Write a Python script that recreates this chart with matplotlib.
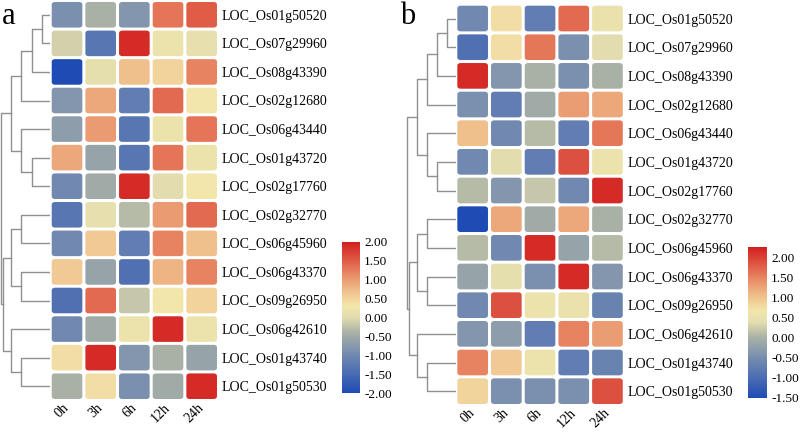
import numpy as np
import matplotlib
matplotlib.use('Agg')
import matplotlib.pyplot as plt
from matplotlib.colors import LinearSegmentedColormap, Normalize
from matplotlib.patches import FancyBboxPatch
from matplotlib.cm import ScalarMappable

plt.rcParams['font.family'] = ['Liberation Serif', 'DejaVu Serif']

times = ['0h', '3h', '6h', '12h', '24h']
genes = ['LOC_Os01g50520', 'LOC_Os07g29960', 'LOC_Os08g43390', 'LOC_Os02g12680',
         'LOC_Os06g43440', 'LOC_Os01g43720', 'LOC_Os02g17760', 'LOC_Os02g32770',
         'LOC_Os06g45960', 'LOC_Os06g43370', 'LOC_Os09g26950', 'LOC_Os06g42610',
         'LOC_Os01g43740', 'LOC_Os01g50530']

# panel a values (z-score, -2..2)
vals_a = np.array([
    [-0.9, -0.4, -0.8, 1.3, 1.5],
    [-0.1, -1.3, 1.9, 0.2, 0.1],
    [-2.0, 0.05, 0.7, 0.5, 1.2],
    [-0.8, 0.9, -1.2, 1.4, 0.3],
    [-0.7, 1.0, -1.3, 0.2, 1.3],
    [0.9, -0.6, -1.3, 1.3, 0.2],
    [-1.0, -0.5, 1.9, 0.0, 0.3],
    [-1.3, 0.1, -0.3, 1.0, 1.4],
    [-1.0, 0.6, -1.2, 1.2, 0.7],
    [0.6, -0.6, -1.4, 0.8, 1.2],
    [-1.4, 1.4, -0.2, 0.3, 0.5],
    [-1.0, -0.5, 0.2, 1.9, 0.2],
    [0.4, 1.9, -0.8, -0.4, -0.6],
    [-0.4, 0.4, -0.9, -0.5, 1.9],
])

# panel b values (z-score, -1.5..2.25)
vals_b = np.array([
    [-0.56, 0.75, -0.75, 1.69, 0.52],
    [-0.94, 0.75, 1.59, -0.47, 0.38],
    [2.16, -0.38, 0.0, -0.47, 0.0],
    [-0.47, -0.75, -0.09, 1.31, 1.22],
    [1.03, -0.56, 0.09, -0.75, 1.59],
    [-0.56, 0.38, -0.75, 1.88, 0.56],
    [0.09, -0.38, 0.19, -0.56, 2.16],
    [-1.5, 1.22, -0.09, 1.22, 0.0],
    [0.09, -0.56, 2.16, -0.19, 0.09],
    [-0.19, 0.42, -0.47, 2.16, -0.38],
    [-0.56, 1.88, 0.56, 0.52, -0.66],
    [-0.38, -0.28, -0.75, 1.5, 1.31],
    [1.5, 0.94, 0.56, -0.75, -0.66],
    [0.84, -0.47, -0.47, -0.47, 1.88],
])

# row clustering: (child, child, height); ids >= 14 are earlier merges
tree = [(0, 1, 1), (14, 2, 2), (15, 3, 3), (5, 6, 2), (4, 17, 3), (16, 18, 4),
        (7, 8, 3), (9, 10, 3), (20, 21, 4), (12, 13, 3), (11, 23, 4),
        (22, 24, 4.85), (19, 25, 5)]

cmap = LinearSegmentedColormap.from_list('tb', [
    (0.0, '#1f4cb4'), (0.25, '#7189b0'), (0.4, '#a9b1a6'), (0.5, '#e2dcae'),
    (0.58, '#f3e6aa'), (0.7, '#eeb584'), (0.82, '#e5795a'), (1.0, '#d21f1e')])


def draw_dendro(ax, merges, n):
    ypos = {i: i + 0.5 for i in range(n)}
    hpos = {i: 0.0 for i in range(n)}
    for k, (c1, c2, h) in enumerate(merges):
        y1, y2 = ypos[c1], ypos[c2]
        ax.plot([hpos[c1], h, h, hpos[c2]], [y1, y1, y2, y2], color='#909090', lw=1)
        ypos[n + k] = (y1 + y2) / 2
        hpos[n + k] = h


def panel(rect_d, rect_h, rect_c, vals, vmin, vmax, ticks, letter, lpos, dmax):
    norm = Normalize(vmin, vmax)
    axd = fig.add_axes(rect_d)
    draw_dendro(axd, tree, len(genes))
    axd.set_xlim(dmax, 0)
    axd.set_ylim(len(genes), 0)
    axd.axis('off')

    ax = fig.add_axes(rect_h)
    gx, gy = 0.045, 0.052
    for i in range(vals.shape[0]):
        for j in range(vals.shape[1]):
            ax.add_patch(FancyBboxPatch((j + gx, i + gy), 1 - 2 * gx, 1 - 2 * gy,
                                        boxstyle='round,pad=0,rounding_size=0.1',
                                        fc=cmap(norm(vals[i, j])), ec='none'))
    ax.set_xlim(0, len(times))
    ax.set_ylim(len(genes), 0)
    for s in ax.spines.values():
        s.set_visible(False)
    ax.set_xticks(np.arange(len(times)) + 0.5)
    ax.set_xticklabels(times, rotation=45, ha='right', va='center',
                       rotation_mode='anchor', fontsize=10)
    ax.set_yticks(np.arange(len(genes)) + 0.5)
    ax.set_yticklabels(genes, fontsize=10)
    ax.yaxis.tick_right()
    ax.tick_params(length=0)
    ax.tick_params(axis='y', pad=2)
    ax.tick_params(axis='x', pad=4)

    cax = fig.add_axes(rect_c)
    cb = fig.colorbar(ScalarMappable(norm=norm, cmap=cmap), cax=cax, ticks=ticks)
    cb.outline.set_visible(False)
    cb.set_ticklabels([f'{t:.2f}' for t in ticks])
    cax.tick_params(length=0, labelsize=9.5, pad=3)

    fig.text(lpos[0] / W, 1 - lpos[1] / H, letter, fontsize=22, va='baseline')


W, H = 800, 433
fig = plt.figure(figsize=(W / 100, H / 100), dpi=100)


def px(x0, y0, x1, y1):
    return [x0 / W, 1 - y1 / H, (x1 - x0) / W, (y1 - y0) / H]


panel(px(0, 0.5, 51.7, 400.5), px(50.2, 0.5, 218.5, 400.5), px(342, 242, 360, 393),
      vals_a, -2, 2, np.arange(-2, 2.01, 0.5), 'a', (2, 24), 5.12)
panel(px(402, 4.2, 457.3, 405.5), px(455.8, 4.2, 624.3, 405.5), px(748, 247, 767, 398),
      vals_b, -1.5, 2.25, np.arange(-1.5, 2.01, 0.5), 'b', (400, 24), 5.5)

fig.savefig('out.png', dpi=100, facecolor='white')
